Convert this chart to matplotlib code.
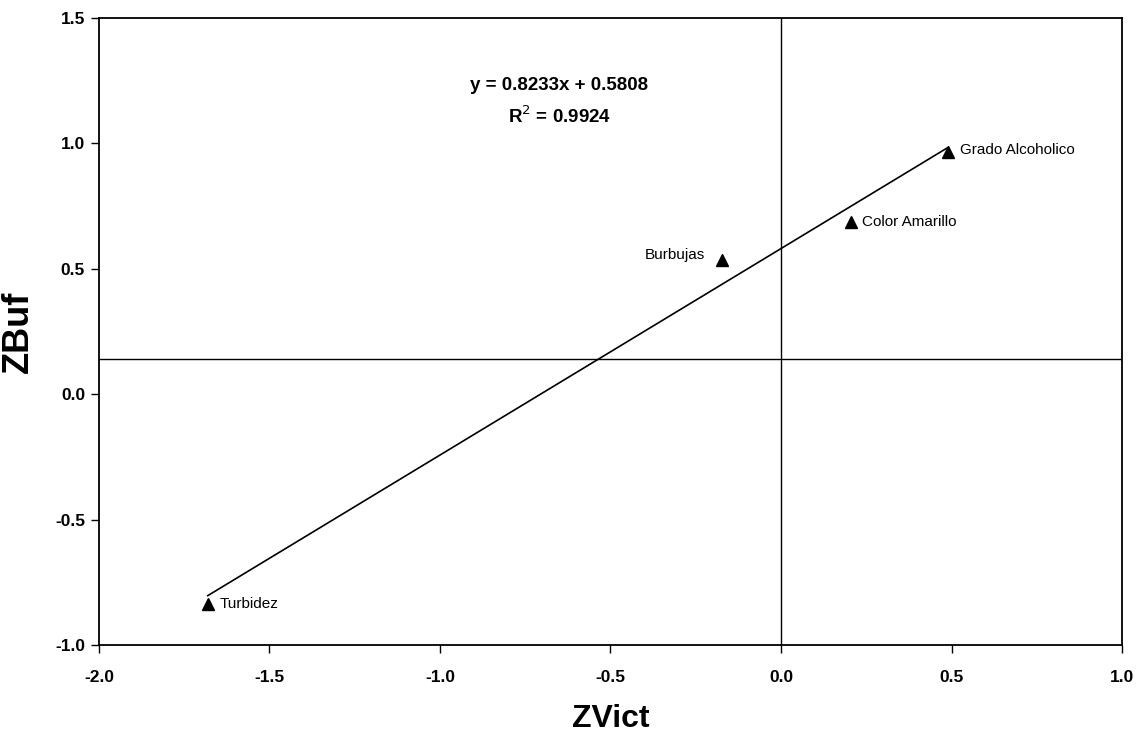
import matplotlib
matplotlib.use("Agg")
import matplotlib.pyplot as plt
import numpy as np

plt.rcParams['font.family'] = ['Liberation Sans', 'DejaVu Sans']

# Standardised scores per attribute
attributes = ["Turbidez", "Burbujas", "Color Amarillo", "Grado Alcoholico"]
zvict = [-1.681, -0.173, 0.205, 0.491]
zbuf = [-0.835, 0.537, 0.687, 0.964]

# Linear trend reported on the chart
slope = 0.8233
intercept = 0.5808
r_squared = 0.9924

# Reference lines
ref_x = 0.0
ref_y = 0.14

x_ticks = [-2.0, -1.5, -1.0, -0.5, 0.0, 0.5, 1.0]
y_ticks = [-1.0, -0.5, 0.0, 0.5, 1.0, 1.5]

fig = plt.figure(figsize=(11.44, 7.36), dpi=100)
ax = fig.add_axes([0.0865, 0.1236, 0.8943, 0.8519])

ax.axvline(ref_x, color="black", lw=1.0, zorder=1)
ax.axhline(ref_y, color="black", lw=1.0, zorder=1)

xs = np.array([min(zvict), max(zvict)])
ax.plot(xs, slope * xs + intercept, color="black", lw=1.2, zorder=2)

ax.plot(zvict, zbuf, linestyle="none", marker="^", markersize=8,
        color="black", zorder=3)

offsets = {
    "Turbidez": (12, 0, "left"),
    "Burbujas": (-17, 5, "right"),
    "Color Amarillo": (11, 0, "left"),
    "Grado Alcoholico": (12, 2, "left"),
}
for name, x, y in zip(attributes, zvict, zbuf):
    dx, dy, ha = offsets[name]
    ax.annotate(name, (x, y), xytext=(dx, dy), textcoords="offset pixels",
                ha=ha, va="center", fontsize=11)

ax.text(-0.65, 1.23, f"y = {slope:.4f}x + {intercept:.4f}", ha="center",
        va="center", fontsize=13.5, fontweight="bold")
ax.text(-0.65, 1.11, f"R$^{{2}}$ = {r_squared:.4f}", ha="center",
        va="center", fontsize=13.5, fontweight="bold")

ax.set_xlim(-2.0, 1.0)
ax.set_ylim(-1.0, 1.5)
ax.set_xticks(x_ticks)
ax.set_yticks(y_ticks)
ax.set_xticklabels([f"{t:.1f}" for t in x_ticks])
ax.set_yticklabels([f"{t:.1f}" for t in y_ticks])
for lbl in ax.get_xticklabels() + ax.get_yticklabels():
    lbl.set_fontweight("bold")
    lbl.set_fontsize(12.5)
ax.tick_params(direction="out", length=6, width=1.0)
ax.tick_params(axis="x", pad=12)
ax.tick_params(axis="y", pad=4)

for sp in ax.spines.values():
    sp.set_linewidth(1.3)

ax.set_xlabel("ZVict", fontsize=23, fontweight="bold", labelpad=14)
ax.set_ylabel("ZBuf", fontsize=26, fontweight="bold", labelpad=14)

fig.savefig("out.png", dpi=100)
